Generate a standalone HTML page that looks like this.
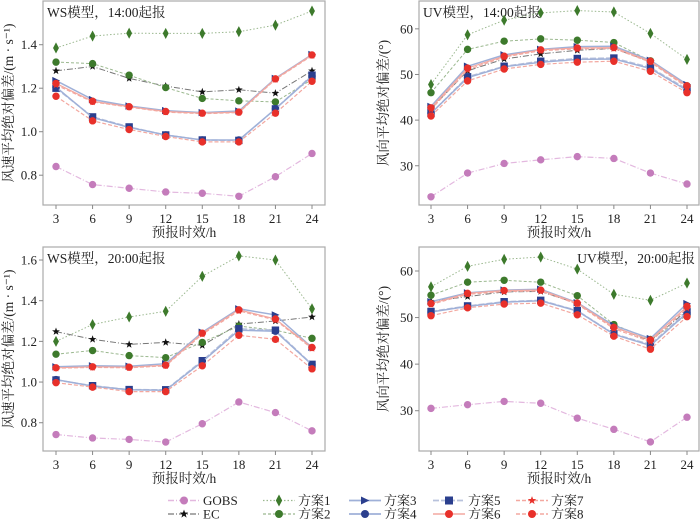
<!DOCTYPE html>
<html><head><meta charset="utf-8"><style>
body{margin:0;background:#fff}
svg{display:block;font-family:"Liberation Serif","Noto Serif CJK SC",serif}
</style></head><body>
<svg id="chart" width="700" height="519" viewBox="0 0 700 519"></svg>
<script>
const hours=[3,6,9,12,15,18,21,24];
const seriesNames=["GOBS","EC","方案1","方案2","方案3","方案4","方案5","方案6","方案7","方案8"];
const wsYTicks=["0.8","1.0","1.2","1.4"];
const wsYTicks2=["0.8","1.0","1.2","1.4","1.6"];
const uvYTicks=["30","40","50","60"];
// Panel TL: WS 14:00
const tlGOBS=[.84,.757,.74,.723,.717,.703,.793,.90];
const tlEC=[1.28,1.30,1.245,1.21,1.183,1.193,1.177,1.28];
const tlS1=[1.385,1.44,1.453,1.452,1.452,1.46,1.49,1.555];
const tlS2=[1.32,1.313,1.26,1.203,1.153,1.142,1.137,1.24];
const tlS3=[1.235,1.148,1.118,1.097,1.088,1.095,1.245,1.355];
const tlS4=[1.205,1.065,1.02,.985,.962,.962,1.105,1.255];
const tlS5=[1.2,1.068,1.022,.985,.962,.96,1.105,1.26];
const tlS6=[1.222,1.14,1.115,1.093,1.085,1.09,1.243,1.353];
const tlS7=[1.215,1.137,1.113,1.09,1.083,1.088,1.24,1.35];
const tlS8=[1.163,1.05,1.01,.978,.953,.953,1.085,1.232];
// Panel TR: UV 14:00
const trGOBS=[23.2,28.4,30.5,31.3,32,31.6,28.4,26];
const trEC=[42.5,50.8,53.4,54.5,55.3,55.7,52.8,47.5];
const trS1=[47.8,58.7,61.9,63.5,64,63.7,59,53.3];
const trS2=[46,55.5,57.3,57.8,57.5,57,53,47.5];
const trS3=[43,51.8,54.3,55.5,56.1,56.2,53.1,47.8];
const trS4=[41.5,49.3,51.7,52.7,53.3,53.4,51.3,46.5];
const trS5=[41.5,49.5,51.8,52.9,53.5,53.6,51.5,46.8];
const trS6=[42.7,51.4,54,55.4,55.8,55.9,52.9,47.5];
const trS7=[42.3,51,53.8,55.2,55.6,55.7,52.7,47.2];
const trS8=[40.9,48.6,51.2,52.2,52.7,52.9,50.7,46];
// Panel BL: WS 20:00
const blGOBS=[.742,.725,.718,.705,.795,.902,.85,.76];
const blEC=[1.248,1.21,1.185,1.195,1.18,1.285,1.3,1.32];
const blS1=[1.2,1.283,1.32,1.348,1.52,1.62,1.6,1.36];
const blS2=[1.137,1.155,1.13,1.12,1.195,1.275,1.255,1.215];
const blS3=[1.075,1.08,1.078,1.09,1.245,1.36,1.33,1.17];
const blS4=[1.012,.98,.962,.96,1.1,1.255,1.25,1.085];
const blS5=[1.01,.982,.963,.962,1.105,1.262,1.255,1.087];
const blS6=[1.07,1.075,1.073,1.083,1.24,1.355,1.31,1.17];
const blS7=[1.068,1.072,1.07,1.08,1.235,1.35,1.305,1.165];
const blS8=[.997,.975,.953,.953,1.08,1.23,1.21,1.065];
// Panel BR: UV 20:00
const brGOBS=[30.5,31.3,32,31.6,28.4,26,23.3,28.6];
const brEC=[53.5,54.5,55.5,55.6,53,48,45,51.5];
const brS1=[56.6,61,62.5,63,60.4,55,53.7,57.4];
const brS2=[54.8,57.6,58,57.6,54.7,48.5,45.3,50.5];
const brS3=[53.4,55.3,55.9,56.1,53.2,48.3,45.5,53];
const brS4=[51.2,52.4,53.3,53.6,51.4,46.4,44,51];
const brS5=[51.3,52.5,53.4,53.7,51.5,46.5,44.2,51.3];
const brS6=[53,55.2,55.8,55.9,53.1,47.9,45.2,52.4];
const brS7=[52.8,55,55.6,55.7,52.9,47.6,44.8,52];
const brS8=[50.4,52.1,52.9,53.1,50.6,46,43.2,50.2];

const NS="http://www.w3.org/2000/svg";
const svg=document.getElementById('chart');
function mk(tag,attrs,parent){const e=document.createElementNS(NS,tag);for(const k in attrs)e.setAttribute(k,attrs[k]);(parent||svg).appendChild(e);return e;}

const styles=[
 {line:"#e3b8df",dash:"6,2,1,2",mc:"#c47cbb",m:"circle",lw:1.2},
 {line:"#777",dash:"6,2,1,2",mc:"#111",m:"star",lw:1},
 {line:"#9bb88f",dash:"1.5,2",mc:"#3d7a2c",m:"diamond",lw:1},
 {line:"#9bb88f",dash:"3,2",mc:"#3d7a2c",m:"circle",lw:1},
 {line:"#9fb0d8",dash:"",mc:"#2b3f8e",m:"tri",lw:1.5},
 {line:"#9fb0d8",dash:"",mc:"#2b3f8e",m:"circle",lw:1.5},
 {line:"#b8c2dc",dash:"6,2",mc:"#2b3f8e",m:"square",lw:1.5},
 {line:"#f3a8a0",dash:"",mc:"#e8302a",m:"circle",lw:1.2},
 {line:"#f3a8a0",dash:"4,2",mc:"#e8302a",m:"star",lw:1.2},
 {line:"#f3a8a0",dash:"4,2",mc:"#e8302a",m:"circle",lw:1.2}
];
function marker(g,type,x,y,c,s){
 let e;
 if(type==="circle")e=mk('circle',{cx:x,cy:y,r:s*1.0,fill:c},g);
 else if(type==="square")e=mk('rect',{x:x-s,y:y-s,width:2*s,height:2*s,fill:c},g);
 else if(type==="diamond")e=mk('polygon',{points:`${x},${y-s*1.5} ${x+s*0.8},${y} ${x},${y+s*1.5} ${x-s*0.8},${y}`,fill:c},g);
 else if(type==="tri")e=mk('polygon',{points:`${x-s},${y-s} ${x+s*1.1},${y} ${x-s},${y+s}`,fill:c},g);
 else {let p=[];for(let i=0;i<10;i++){const r=i%2?s*0.45:s*1.1;const a=-Math.PI/2+i*Math.PI/5;p.push((x+r*Math.cos(a)).toFixed(1)+","+(y+r*Math.sin(a)).toFixed(1));}
  e=mk('polygon',{points:p.join(' '),fill:c},g);}
 return e;
}
function panel(cfg){
 const g=mk('g',{});
 
 
 const {L,R,T,B,x0px,x1px,ymin,ymax}=cfg;
 const xs=h=>x0px+(h-3)/(24-3)*(x1px-x0px);
 const ys=v=>B-(v-ymin)/(ymax-ymin)*(B-T);
 const frame=mk('rect',{x:L,y:T,width:R-L,height:B-T,fill:"none",stroke:"#aaa","stroke-width":1.2},g);
 
 hours.forEach(h=>{
  mk('line',{x1:xs(h),x2:xs(h),y1:B,y2:B+4,stroke:"#888"},g);
  const t=mk('text',{x:xs(h),y:B+18,"text-anchor":"middle","font-size":13,fill:"#222"},g);t.textContent=h;
  
 });
 cfg.ticks.forEach(tk=>{
  const v=parseFloat(tk);
  mk('line',{x1:L-4,x2:L,y1:ys(v),y2:ys(v),stroke:"#888"},g);
  const t=mk('text',{x:L-6,y:ys(v)+4.5,"text-anchor":"end","font-size":13,fill:"#222"},g);t.textContent=tk;
  
 });
 const xt=mk('text',{x:(L+R)/2,y:B+32,"text-anchor":"middle","font-size":13.5,fill:"#222"},g);xt.textContent="预报时效/h";
 
 const yt=mk('text',{x:0,y:0,"text-anchor":"middle","font-size":13.5,fill:"#222",transform:`translate(${cfg.ytx},${(T+B)/2}) rotate(-90)`},g);
 yt.textContent=cfg.ytitle;
 
 const tt=mk('text',{x:cfg.titleX,y:T+16,"text-anchor":cfg.titleAnchor,"font-size":13.5,fill:"#222"},g);tt.textContent=cfg.title;
 
 const order=[0,1,2,3,6,5,4,9,8,7];
 order.forEach(i=>{
  const st=styles[i],d=cfg.data[i];
  const sg=mk('g',{},g);
  
  
  const pts=d.map((v,j)=>xs(hours[j]).toFixed(1)+","+ys(v).toFixed(1)).join(' ');
  mk('polyline',{points:pts,fill:"none",stroke:st.line,"stroke-width":st.lw,"stroke-dasharray":st.dash},sg);
  d.forEach((v,j)=>{const m=marker(sg,st.m,xs(hours[j]),ys(v),st.mc,3.7);
   });
 });
}
panel({name:"panel-ws-1400",L:43,R:325,T:1,B:205,x0px:56,x1px:312,ymin:0.663,ymax:1.601,ticks:wsYTicks,ytx:13,ytitle:"风速平均绝对偏差/(m · s⁻¹)",title:"WS模型，14:00起报",titleX:47,titleAnchor:"start",
 data:[tlGOBS,tlEC,tlS1,tlS2,tlS3,tlS4,tlS5,tlS6,tlS7,tlS8]});
panel({name:"panel-uv-1400",L:419,R:699,T:1,B:205,x0px:431,x1px:687,ymin:21.4,ymax:66.1,ticks:uvYTicks,ytx:388,ytitle:"风向平均绝对偏差/(°)",title:"UV模型，14:00起报",titleX:423,titleAnchor:"start",
 data:[trGOBS,trEC,trS1,trS2,trS3,trS4,trS5,trS6,trS7,trS8]});
panel({name:"panel-ws-2000",L:43,R:325,T:247,B:451,x0px:56,x1px:312,ymin:0.661,ymax:1.664,ticks:wsYTicks2,ytx:13,ytitle:"风速平均绝对偏差/(m · s⁻¹)",title:"WS模型，20:00起报",titleX:47,titleAnchor:"start",
 data:[blGOBS,blEC,blS1,blS2,blS3,blS4,blS5,blS6,blS7,blS8]});
panel({name:"panel-uv-2000",L:419,R:699,T:247,B:451,x0px:431,x1px:687,ymin:21.35,ymax:65.15,ticks:uvYTicks,ytx:388,ytitle:"风向平均绝对偏差/(°)",title:"UV模型，20:00起报",titleX:695,titleAnchor:"end",
 data:[brGOBS,brEC,brS1,brS2,brS3,brS4,brS5,brS6,brS7,brS8]});

// legend
const lg=mk('g',{});


const colsX=[168,263,349,433,516];
seriesNames.forEach((n,i)=>{
 const col=Math.floor(i/2),row=i%2;
 const x=colsX[col],y=row?514:500.5,st=styles[i];
 const eg=mk('g',{},lg);
 
 
 mk('line',{x1:x,x2:x+32,y1:y,y2:y,stroke:st.line,"stroke-width":st.lw+0.3,"stroke-dasharray":st.dash},eg);
 marker(eg,st.m,x+16,y,st.mc,4);
 const t=mk('text',{x:x+35,y:y+4.5,"font-size":13,fill:"#222"},eg);t.textContent=n;
});
</script>
</body></html>
